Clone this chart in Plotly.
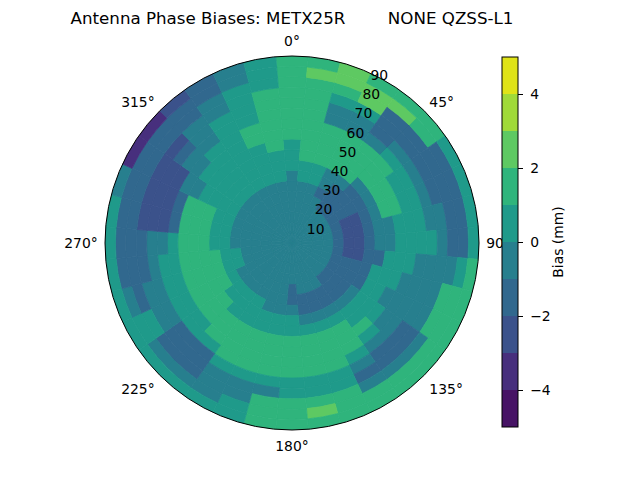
import plotly.graph_objects as go

title = "Antenna Phase Biases: METX25R" + "\u00a0" * 8 + "NONE QZSS-L1"

# azimuth sector centres (deg, clockwise from north) and zenith ring edges (deg)
azimuth = [0, 10, 20, 30, 40, 50, 60, 70, 80, 90, 100, 110, 120, 130, 140, 150, 160, 170,
           180, 190, 200, 210, 220, 230, 240, 250, 260, 270, 280, 290, 300, 310, 320, 330, 340, 350]
zenith = [0, 5, 10, 15, 20, 25, 30, 35, 40, 45, 50, 55, 60, 65, 70, 75, 80, 85, 90]

# bias (mm) per azimuth sector, one value per 5 deg zenith ring, centre outwards
bias = [
    [-0.5, -0.5, -0.5, -0.5, -0.5, -0.5, -0.5, 0.5, 0.5, 0.5, 1.5, 1.5, 1.5, 1.5, 1.5, 1.5, 1.5, 1.5],
    [-0.5, -0.5, -0.5, -0.5, -0.5, -0.5, 0.5, 0.5, 1.5, 1.5, 1.5, 1.5, 1.5, 1.5, 1.5, 1.5, 2.5, 1.5],
    [-0.5, -0.5, -0.5, -0.5, -0.5, -0.5, 0.5, 0.5, 1.5, 1.5, 1.5, 1.5, -0.5, -0.5, 0.5, 1.5, 2.5, 2.5],
    [-0.5, -0.5, -0.5, -0.5, -0.5, -1.5, -0.5, -0.5, 1.5, 1.5, 1.5, 1.5, -0.5, -0.5, 0.5, 2.5, 2.5, 1.5],
    [-0.5, -0.5, -0.5, -0.5, -1.5, -1.5, -1.5, -0.5, 1.5, 1.5, 1.5, 1.5, -0.5, -1.5, -1.5, -1.5, 2.5, 1.5],
    [-0.5, -0.5, -0.5, -0.5, -1.5, -1.5, -1.5, -1.5, -0.5, 1.5, 1.5, 1.5, 0.5, -0.5, -1.5, -1.5, 1.5, 1.5],
    [-0.5, -0.5, -0.5, -0.5, -1.5, -1.5, -1.5, -1.5, -0.5, 1.5, 1.5, 0.5, 0.5, -0.5, -1.5, -1.5, -1.5, 0.5],
    [-0.5, -0.5, -0.5, -0.5, -1.5, -2.5, -2.5, -1.5, -0.5, 1.5, 1.5, 0.5, 0.5, -0.5, -1.5, -1.5, -1.5, 0.5],
    [-0.5, -0.5, -0.5, -0.5, -1.5, -2.5, -2.5, -1.5, -0.5, -0.5, 0.5, 0.5, 0.5, -0.5, -0.5, -1.5, -1.5, 0.5],
    [-0.5, -0.5, -0.5, -0.5, -1.5, -2.5, -2.5, -1.5, -0.5, -0.5, 0.5, 0.5, 0.5, 0.5, -0.5, -1.5, -1.5, 0.5],
    [-0.5, -0.5, -0.5, -0.5, -1.5, -2.5, -2.5, -1.5, -1.5, 0.5, 0.5, 0.5, -0.5, -0.5, -0.5, -0.5, 0.5, 1.5],
    [-0.5, -0.5, -0.5, -0.5, -1.5, -1.5, -1.5, -1.5, 0.5, 0.5, 0.5, -0.5, -0.5, -0.5, -0.5, 1.5, 1.5, 1.5],
    [-0.5, -0.5, -0.5, -0.5, -1.5, -1.5, -1.5, -1.5, 0.5, 0.5, -0.5, -0.5, -0.5, -0.5, -0.5, 1.5, 1.5, 1.5],
    [-0.5, -0.5, -0.5, -0.5, -1.5, -1.5, -1.5, -0.5, 0.5, 0.5, 0.5, -0.5, -0.5, -1.5, -1.5, -0.5, 1.5, 1.5],
    [-0.5, -0.5, -0.5, -0.5, -1.5, -1.5, -1.5, -0.5, 0.5, 0.5, 1.5, 0.5, -0.5, -1.5, -1.5, -0.5, 1.5, 1.5],
    [-0.5, -0.5, -0.5, -0.5, -0.5, -1.5, -1.5, -0.5, 0.5, 1.5, 1.5, 1.5, 0.5, -0.5, -1.5, -0.5, 1.5, 1.5],
    [-0.5, -0.5, -0.5, -0.5, -0.5, -1.5, -1.5, -0.5, 0.5, 1.5, 1.5, 1.5, 1.5, 0.5, 0.5, 1.5, 1.5, 1.5],
    [-0.5, -0.5, -0.5, -0.5, -0.5, -1.5, -1.5, -0.5, 0.5, 1.5, 1.5, 1.5, 1.5, 0.5, 0.5, 1.5, 2.5, 1.5],
    [-0.5, -0.5, -0.5, -0.5, -1.5, -1.5, -0.5, 0.5, 0.5, 1.5, 1.5, 1.5, 1.5, 0.5, 0.5, 1.5, 1.5, 1.5],
    [-0.5, -0.5, -0.5, -0.5, -0.5, -0.5, -0.5, 0.5, 0.5, 1.5, 1.5, 1.5, 1.5, 0.5, -0.5, 1.5, 1.5, 1.5],
    [-0.5, -0.5, -0.5, -0.5, -0.5, -0.5, -0.5, 0.5, 0.5, 1.5, 1.5, 1.5, 1.5, 0.5, -0.5, -0.5, 0.5, 0.5],
    [-0.5, -0.5, -0.5, -0.5, -0.5, -0.5, 0.5, 0.5, 0.5, 1.5, 1.5, 1.5, 1.5, 0.5, -0.5, -0.5, -0.5, 0.5],
    [-0.5, -0.5, -0.5, -0.5, -0.5, -0.5, 0.5, 0.5, 0.5, 1.5, 1.5, 1.5, 0.5, -1.5, -1.5, -1.5, -0.5, 0.5],
    [-0.5, -0.5, -0.5, -0.5, -0.5, -0.5, 0.5, 0.5, 1.5, 1.5, 1.5, 0.5, 0.5, -1.5, -1.5, -1.5, -0.5, 0.5],
    [-0.5, -0.5, -0.5, -0.5, -0.5, -0.5, 0.5, 1.5, 1.5, 1.5, 1.5, 0.5, 0.5, -0.5, -0.5, 0.5, 0.5, 0.5],
    [-0.5, -0.5, -0.5, -0.5, -0.5, 0.5, 0.5, 1.5, 1.5, 1.5, 1.5, 0.5, 0.5, -0.5, -0.5, -1.5, -0.5, 0.5],
    [-0.5, -0.5, -0.5, -0.5, -0.5, 0.5, 0.5, 1.5, 1.5, 1.5, 1.5, 0.5, 0.5, -0.5, -1.5, -1.5, -1.5, 0.5],
    [-0.5, -0.5, -0.5, -0.5, -0.5, -0.5, 0.5, 0.5, 1.5, 1.5, 1.5, 0.5, -0.5, -0.5, -1.5, -1.5, -1.5, 0.5],
    [-0.5, -0.5, -0.5, -0.5, -0.5, -0.5, 0.5, 0.5, 1.5, 1.5, 1.5, -1.5, -2.5, -2.5, -2.5, -1.5, -1.5, 0.5],
    [-0.5, -0.5, -0.5, -0.5, -0.5, -0.5, 0.5, 0.5, 1.5, 1.5, 1.5, -1.5, -2.5, -2.5, -2.5, -1.5, -1.5, -0.5],
    [-0.5, -0.5, -0.5, -0.5, -0.5, -0.5, 0.5, 0.5, 0.5, 0.5, -0.5, -0.5, -2.5, -2.5, -2.5, -1.5, -1.5, -3.5],
    [-0.5, -0.5, -0.5, -0.5, -0.5, -0.5, 0.5, 0.5, 0.5, 0.5, 0.5, -0.5, -0.5, -1.5, -2.5, -1.5, -1.5, -3.5],
    [-0.5, -0.5, -0.5, -0.5, -0.5, -0.5, 0.5, 0.5, 0.5, 0.5, 0.5, 0.5, -0.5, -0.5, -0.5, -1.5, -1.5, -2.5],
    [-0.5, -0.5, -0.5, -0.5, -0.5, -0.5, 0.5, 0.5, 0.5, 0.5, 0.5, 0.5, 0.5, 0.5, -0.5, -0.5, -1.5, -1.5],
    [-0.5, -0.5, -0.5, -0.5, -0.5, -0.5, 0.5, 0.5, 0.5, 0.5, 1.5, 1.5, 0.5, 0.5, 0.5, 0.5, -0.5, -0.5],
    [-0.5, -0.5, -0.5, -0.5, -0.5, -0.5, 0.5, 0.5, 0.5, 1.5, 1.5, 1.5, 1.5, 1.5, 1.5, 0.5, 0.5, 0.5],
]

levels = [-5, -4, -3, -2, -1, 0, 1, 2, 3, 4, 5]
level_colors = ["#471365", "#472f7d", "#3b528b", "#31688e", "#277f8e",
                "#1f9a8a", "#2fb47c", "#5ec962", "#a0da39", "#dfe318"]
cbar_ticks = [-4, -2, 0, 2, 4]

# stepped colour scale so each contour band gets one flat colour
cscale = []
for i, c in enumerate(level_colors):
    cscale.append([i / len(level_colors), c])
    cscale.append([(i + 1) / len(level_colors), c])

theta, base, dr, vals = [], [], [], []
for az, row in zip(azimuth, bias):
    for k, v in enumerate(row):
        theta.append(az)
        base.append(zenith[k])
        dr.append(zenith[k + 1] - zenith[k])
        vals.append(v)

nb = "\u00a0"
cbar_text = [nb + str(t).replace("-", "\u2212") + nb * 2 for t in cbar_ticks]

# page body has an 8px margin, so positions below are pulled back by 8px
fig = go.Figure()
fig.add_trace(go.Barpolar(
    theta=theta, r=dr, base=base, width=10,
    marker=dict(
        color=vals, colorscale=cscale, cmin=levels[0], cmax=levels[-1],
        line=dict(width=0.8, color=vals, colorscale=cscale, cmin=levels[0], cmax=levels[-1]),
        colorbar=dict(
            title=dict(text="Bias (mm)", side="right", font=dict(size=13.9, color="black")),
            tickvals=cbar_ticks, ticktext=cbar_text,
            ticks="outside", ticklen=5, tickcolor="black",
            tickfont=dict(size=13.9, color="black"),
            outlinewidth=1, outlinecolor="black",
            thickness=16, len=370, lenmode="pixels",
            x=494 / 640, xanchor="left", xpad=0,
            y=1 - 234 / 480, yanchor="middle", ypad=0,
        ),
    ),
    showlegend=False,
))

fig.update_layout(
    width=640, height=480,
    margin=dict(l=0, r=0, t=0, b=0, autoexpand=False),
    paper_bgcolor="white",
    font=dict(family="DejaVu Sans", size=13.9, color="black"),
    title=dict(text=title, x=284 / 640, xanchor="center", y=1 - 10 / 480, yanchor="middle",
               font=dict(size=16.7, color="black")),
    polar=dict(
        domain=dict(x=[97 / 640, 471 / 640], y=[1 - 422 / 480, 1 - 48 / 480]),
        bgcolor="white",
        bargap=0,
        angularaxis=dict(
            rotation=90, direction="clockwise",
            tickmode="array", tickvals=[0, 45, 90, 135, 180, 225, 270, 315],
            ticktext=["0°", "45°", "90", "135°", "180°", "225°", "270°", "315°"],
            ticks="outside", ticklen=4, tickcolor="rgba(0,0,0,0)",
            showgrid=True, gridcolor="#b0b0b0", gridwidth=1,
            linecolor="black", linewidth=1, layer="above traces",
        ),
        radialaxis=dict(
            range=[0, 90], tickmode="array", tickvals=[10, 20, 30, 40, 50, 60, 70, 80, 90],
            angle=67.5, tickangle=67.5, ticks="", showline=False,
            showgrid=True, gridcolor="#b0b0b0", gridwidth=1, layer="above traces",
        ),
    ),
)

fig.write_html("out.html")
